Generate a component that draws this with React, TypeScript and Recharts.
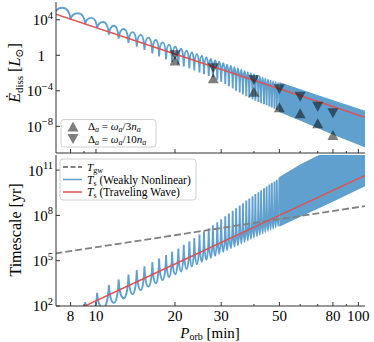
import React from "react";
import { ComposedChart, Line, Area, Scatter, XAxis, YAxis } from "recharts";

const SERIF = "'Liberation Serif', 'DejaVu Serif', serif";
const BLUE = "#5fa0cf";
const RED = "#de5253";
const GRAY = "#808080";
const AXIS = "#333";

// axes
const periodDomain = [7.04, 106];
const periodTicks = [8, 9, 10, 20, 30, 40, 50, 60, 70, 80, 90, 100];
const periodLabels = [8, 10, 20, 30, 50, 80, 100];
const eDissTicks = [1e-8, 1e-4, 1, 1e4];
const timeTicks = [1e2, 1e5, 1e8, 1e11];

// traveling wave (log10 values)
const linePeriods = [7, 20, 50, 106];
const eTravelExp = [4.64, 0.15, -3.77, -6.99];
const tTravelExp = [1.09, 4.78, 8.0, 10.64];

// gravitational wave timescale (log10 yr)
const gwPeriods = [7, 30, 106];
const tGwExp = [5.48, 7.16, 8.62];

// weakly nonlinear: resonance / between-resonance periods, alternating
const wnlPeriods = [
  6.95, 7.47, 8.0, 8.55, 9.1, 9.6, 10.1, 10.65, 11.2, 11.7, 12.2, 12.75, 13.3, 13.8,
  14.3, 14.8, 15.3, 15.85, 16.4, 16.9, 17.4, 17.95, 18.5, 19.0, 19.5, 20.05, 20.6,
  21.1, 21.6, 22.15, 22.7, 23.2, 23.7, 24.25, 24.8, 25.3, 25.8, 26.35, 26.9, 27.4,
  27.9, 28.45, 29.0, 29.5, 30.0, 30.55, 31.1, 31.6, 32.1, 32.65, 33.2, 33.7, 34.2,
  34.75, 35.3, 35.8, 36.3, 36.85, 37.4, 37.9, 38.4, 38.95, 39.5, 40.0, 40.5, 41.05,
  41.6, 42.1, 42.6, 43.15, 43.7, 44.2, 44.7, 45.25, 45.8, 46.3, 46.8, 47.35, 47.9,
  48.4, 48.9, 49.45, 50.0,
];
const eWnlExp = [
  4.67, 5.36, 4.07, 4.73, 3.52, 4.21, 3.07, 3.75, 2.33, 3.33, 1.86, 2.96, 1.39, 2.61,
  0.98, 2.3, 0.6, 1.99, 0.2, 1.72, -0.13, 1.45, -0.47, 1.2, -0.76, 0.96, -1.03,
  0.74, -1.26, 0.52, -1.49, 0.32, -1.71, 0.13, -1.93, -0.06, -2.12, -0.24, -2.32, -0.41,
  -2.51, -0.58, -2.74, -0.73, -2.99, -0.89, -3.24, -1.05, -3.48, -1.2, -3.75, -1.34, -3.98,
  -1.49, -4.2, -1.62, -4.4, -1.76, -4.6, -1.89, -4.78, -2.01, -4.96, -2.14, -5.12, -2.26,
  -5.26, -2.38, -5.39, -2.49, -5.52, -2.6, -5.63, -2.71, -5.76, -2.82, -5.89, -2.92, -6.03,
  -3.01, -6.16, -3.1, -6.29,
];
const tWnlExp = [
  1.2, 0.64, 1.76, 1.11, 2.26, 1.52, 2.88, 1.88, 3.38, 2.21, 3.76, 2.51, 4.09, 2.79,
  4.38, 3.04, 4.63, 3.28, 4.91, 3.5, 5.15, 3.72, 5.38, 3.92, 5.59, 4.1, 5.81,
  4.28, 6.05, 4.45, 6.29, 4.62, 6.5, 4.77, 6.73, 4.92, 6.94, 5.06, 7.15, 5.2,
  7.35, 5.33, 7.55, 5.46, 7.74, 5.58, 7.94, 5.7, 8.12, 5.82, 8.31, 5.93, 8.48,
  6.04, 8.65, 6.14, 8.81, 6.24, 8.98, 6.34, 9.12, 6.44, 9.27, 6.53, 9.41, 6.62,
  9.54, 6.71, 9.66, 6.8, 9.79, 6.88, 9.91, 6.96, 10.04, 7.04, 10.14, 7.12, 10.25,
  7.2, 10.36, 7.28, 10.47,
];

// dense resonances beyond 50 min: envelope of the oscillation
const bandPeriods = [50, 60, 80, 106];
const eBandLowExp = [-6.29, -7.25, -8.82, -10.26];
const eBandHighExp = [-3.15, -3.93, -5.16, -6.36];
const tBandLowExp = [7.32, 7.96, 8.97, 10.0];
const tBandHighExp = [10.47, 11.3, 12.4, 13.3];

// markers
const markerPeriods = [20, 28, 40, 50, 60, 70, 80];
const eThirdExp = [-0.6, -2.59, -4.1, -5.86, -6.53, -7.66, -8.98];
const eTenthExp = [0.0, -1.47, -2.78, -3.83, -4.66, -5.79, -6.53];

const byP = (a: any, b: any) => a.P - b.P;

const topRows = [
  ...linePeriods.map((P, i) => ({ P, red: 10 ** eTravelExp[i] })),
  ...wnlPeriods.map((P, i) => ({ P, wnl: 10 ** eWnlExp[i] })),
  ...bandPeriods.map((P, i) => ({ P, band: [10 ** eBandLowExp[i], 10 ** eBandHighExp[i]] })),
].sort(byP);

const bottomRows = [
  ...linePeriods.map((P, i) => ({ P, red: 10 ** tTravelExp[i] })),
  ...gwPeriods.map((P, i) => ({ P, gw: 10 ** tGwExp[i] })),
  ...wnlPeriods.map((P, i) => ({ P, wnl: 10 ** tWnlExp[i] })),
  ...bandPeriods.map((P, i) => ({ P, band: [10 ** tBandLowExp[i], 10 ** tBandHighExp[i]] })),
].sort(byP);

const thirdRows = markerPeriods.map((P, i) => ({ P, v: 10 ** eThirdExp[i] }));
const tenthRows = markerPeriods.map((P, i) => ({ P, v: 10 ** eTenthExp[i] }));

// curve: rounded at one kind of extreme, sharp at the other
function scallop(roundTop: boolean) {
  return (context: any) => {
    let pts: number[][] = [];
    return {
      areaStart() {},
      areaEnd() {},
      lineStart() {
        pts = [];
      },
      point(x: number, y: number) {
        pts.push([x, y]);
      },
      lineEnd() {
        pts.forEach(([x1, y1], i) => {
          if (i === 0) {
            context.moveTo(x1, y1);
            return;
          }
          const [x0, y0] = pts[i - 1];
          const dx = x1 - x0;
          const dy = y1 - y0;
          const toRound = roundTop ? dy < 0 : dy > 0;
          if (toRound) context.bezierCurveTo(x0 + dx * 0.12, y0 + dy * 0.6, x0 + dx * 0.5, y1, x1, y1);
          else context.bezierCurveTo(x0 + dx * 0.5, y0, x1 - dx * 0.12, y1 - dy * 0.6, x1, y1);
        });
      },
    };
  };
}

function XTick(props: any) {
  const { x, y, payload, labels } = props;
  const major = periodLabels.includes(payload.value);
  return (
    <g>
      <line x1={x} x2={x} y1={y} y2={y - (major ? 4 : 2)} stroke={AXIS} />
      {labels && major && (
        <text x={x} y={y + 15} textAnchor="middle" fontSize={15} fontFamily={SERIF} fill="#000">
          {payload.value}
        </text>
      )}
    </g>
  );
}

function YTick(props: any) {
  const { x, y, payload } = props;
  const exp = Math.round(Math.log10(payload.value));
  return (
    <g>
      <line x1={x} x2={x + 4} y1={y} y2={y} stroke={AXIS} />
      {exp === 0 ? (
        <text x={x - 11} y={y} dy="0.36em" textAnchor="end" fontSize={15} fontFamily={SERIF} fill="#000">
          1
        </text>
      ) : (
        <text x={x - 3} y={y} dy="0.36em" textAnchor="end" fontSize={15} fontFamily={SERIF} fill="#000">
          10
          <tspan dy={-6.5} fontSize={10.5}>
            {exp < 0 ? `\u2212${-exp}` : exp}
          </tspan>
        </text>
      )}
    </g>
  );
}

function Tri(props: any) {
  const { cx, cy, up } = props;
  const w = 5.5;
  const h = 5;
  const d = up
    ? `M${cx},${cy - h}L${cx + w},${cy + h}L${cx - w},${cy + h}Z`
    : `M${cx},${cy + h}L${cx + w},${cy - h}L${cx - w},${cy - h}Z`;
  return <path d={d} fill="#000" fillOpacity={0.5} />;
}

export default function App() {
  const xCommon = {
    dataKey: "P",
    type: "number" as const,
    scale: "log" as const,
    domain: periodDomain,
    allowDataOverflow: true,
  };
  const LW = 1.9;
  return (
    <div style={{ position: "absolute", left: 0, top: 0, width: 374, height: 342, background: "#fff" }}>
      <div style={{ position: "absolute", left: 0, top: 0 }}>
        <ComposedChart width={374} height={154} data={topRows} margin={{ top: 2, right: 9, bottom: 0, left: 0 }}>
          <XAxis {...xCommon} ticks={periodTicks} interval={0} height={1} tickSize={0} tickMargin={0}
            tick={(p: any) => <XTick {...p} labels={false} />} stroke={AXIS} />
          <XAxis {...xCommon} xAxisId="top" orientation="top" height={0} tick={false} tickLine={false} stroke={AXIS} />
          <YAxis type="number" scale="log" domain={[1e-11, 1e6]} allowDataOverflow ticks={eDissTicks} interval={0}
            width={56} tickSize={0} tickMargin={0} tick={(p: any) => <YTick {...p} />} stroke={AXIS} />
          <YAxis yAxisId="right" orientation="right" type="number" scale="log" domain={[1e-11, 1e6]}
            allowDataOverflow width={0} tick={false} tickLine={false} stroke={AXIS} />
          <Area dataKey="band" type="linear" stroke={BLUE} strokeWidth={LW} fill={BLUE} fillOpacity={1}
            connectNulls dot={false} activeDot={false} isAnimationActive={false} />
          <Line dataKey="wnl" type={scallop(true) as any} stroke={BLUE} strokeWidth={LW} connectNulls
            dot={false} activeDot={false} isAnimationActive={false} />
          <Line dataKey="red" type="linear" stroke={RED} strokeWidth={1.5} connectNulls
            dot={false} activeDot={false} isAnimationActive={false} />
          <Scatter data={thirdRows} dataKey="v" shape={(p: any) => <Tri {...p} up />} isAnimationActive={false} />
          <Scatter data={tenthRows} dataKey="v" shape={(p: any) => <Tri {...p} up={false} />} isAnimationActive={false} />
        </ComposedChart>
      </div>
      <div style={{ position: "absolute", left: 0, top: 154 }}>
        <ComposedChart width={374} height={188} data={bottomRows} margin={{ top: 1, right: 9, bottom: 0, left: 0 }}>
          <XAxis {...xCommon} ticks={periodTicks} interval={0} height={36} tickSize={0} tickMargin={0}
            tick={(p: any) => <XTick {...p} labels />} stroke={AXIS} />
          <XAxis {...xCommon} xAxisId="top" orientation="top" height={0} tick={false} tickLine={false} stroke={AXIS} />
          <YAxis type="number" scale="log" domain={[1e2, 1e12]} allowDataOverflow ticks={timeTicks} interval={0}
            width={56} tickSize={0} tickMargin={0} tick={(p: any) => <YTick {...p} />} stroke={AXIS} />
          <YAxis yAxisId="right" orientation="right" type="number" scale="log" domain={[1e2, 1e12]}
            allowDataOverflow width={0} tick={false} tickLine={false} stroke={AXIS} />
          <Area dataKey="band" type="linear" stroke={BLUE} strokeWidth={LW} fill={BLUE} fillOpacity={1}
            connectNulls dot={false} activeDot={false} isAnimationActive={false} />
          <Line dataKey="wnl" type={scallop(false) as any} stroke={BLUE} strokeWidth={LW} connectNulls
            dot={false} activeDot={false} isAnimationActive={false} />
          <Line dataKey="gw" type="linear" stroke={GRAY} strokeWidth={1.8} strokeDasharray="7 3" connectNulls
            dot={false} activeDot={false} isAnimationActive={false} />
          <Line dataKey="red" type="linear" stroke={RED} strokeWidth={1.5} connectNulls
            dot={false} activeDot={false} isAnimationActive={false} />
        </ComposedChart>
      </div>
      <svg width={374} height={342} style={{ position: "absolute", left: 0, top: 0, pointerEvents: "none" }}
        fontFamily={SERIF} fill="#000">
        {/* y labels */}
        <text transform="translate(20,73) rotate(-90)" textAnchor="middle" fontSize={16}>
          <tspan fontStyle="italic">Ė</tspan>
          <tspan fontSize={11} dy={3}>diss</tspan>
          <tspan dy={-3}> [</tspan>
          <tspan fontStyle="italic">L</tspan>
          <tspan fontSize={11} dy={3}>⊙</tspan>
          <tspan dy={-3}>]</tspan>
        </text>
        <text transform="translate(21,230) rotate(-90)" textAnchor="middle" fontSize={16}>
          Timescale [yr]
        </text>
        {/* x label */}
        <text x={210} y={337.5} textAnchor="middle" fontSize={15}>
          <tspan fontStyle="italic">P</tspan>
          <tspan fontSize={10} dy={2.5}>orb</tspan>
          <tspan dy={-2.5}> [min]</tspan>
        </text>
        {/* top legend */}
        <rect x={61} y={119.5} width={95} height={27.5} rx={3} fill="#fff" fillOpacity={0.8} stroke="#d0d0d0" />
        <path d="M73,121.5L78.5,131.5L67.5,131.5Z" fill="#000" fillOpacity={0.5} />
        <path d="M73,144L78.5,134L67.5,134Z" fill="#000" fillOpacity={0.5} />
        <text x={88} y={130} fontSize={11}>
          Δ<tspan fontStyle="italic" fontSize={8} dy={2}>a</tspan>
          <tspan dy={-2}> = </tspan>
          <tspan fontStyle="italic">ω</tspan>
          <tspan fontStyle="italic" fontSize={8} dy={2}>a</tspan>
          <tspan dy={-2}>/3</tspan>
          <tspan fontStyle="italic">n</tspan>
          <tspan fontStyle="italic" fontSize={8} dy={2}>a</tspan>
        </text>
        <text x={88} y={142.5} fontSize={11}>
          Δ<tspan fontStyle="italic" fontSize={8} dy={2}>a</tspan>
          <tspan dy={-2}> = </tspan>
          <tspan fontStyle="italic">ω</tspan>
          <tspan fontStyle="italic" fontSize={8} dy={2}>a</tspan>
          <tspan dy={-2}>/10</tspan>
          <tspan fontStyle="italic">n</tspan>
          <tspan fontStyle="italic" fontSize={8} dy={2}>a</tspan>
        </text>
        {/* bottom legend */}
        <rect x={60} y={159} width={136} height={41} rx={3} fill="#fff" fillOpacity={0.8} stroke="#d0d0d0" />
        <line x1={63} x2={82} y1={167} y2={167} stroke={GRAY} strokeWidth={1.8} strokeDasharray="5 2.5" />
        <line x1={63} x2={82} y1={179.5} y2={179.5} stroke={BLUE} strokeWidth={1.5} />
        <line x1={63} x2={82} y1={192} y2={192} stroke={RED} strokeWidth={1.5} />
        <text x={87} y={171} fontSize={11}>
          <tspan fontStyle="italic">T</tspan>
          <tspan fontSize={8} dy={2}>gw</tspan>
        </text>
        <text x={87} y={183.5} fontSize={11.5}>
          <tspan fontStyle="italic">T</tspan>
          <tspan fontSize={8} dy={2}>s</tspan>
          <tspan dy={-2}> (Weakly Nonlinear)</tspan>
        </text>
        <text x={87} y={196} fontSize={11.5}>
          <tspan fontStyle="italic">T</tspan>
          <tspan fontSize={8} dy={2}>s</tspan>
          <tspan dy={-2}> (Traveling Wave)</tspan>
        </text>
      </svg>
    </div>
  );
}
